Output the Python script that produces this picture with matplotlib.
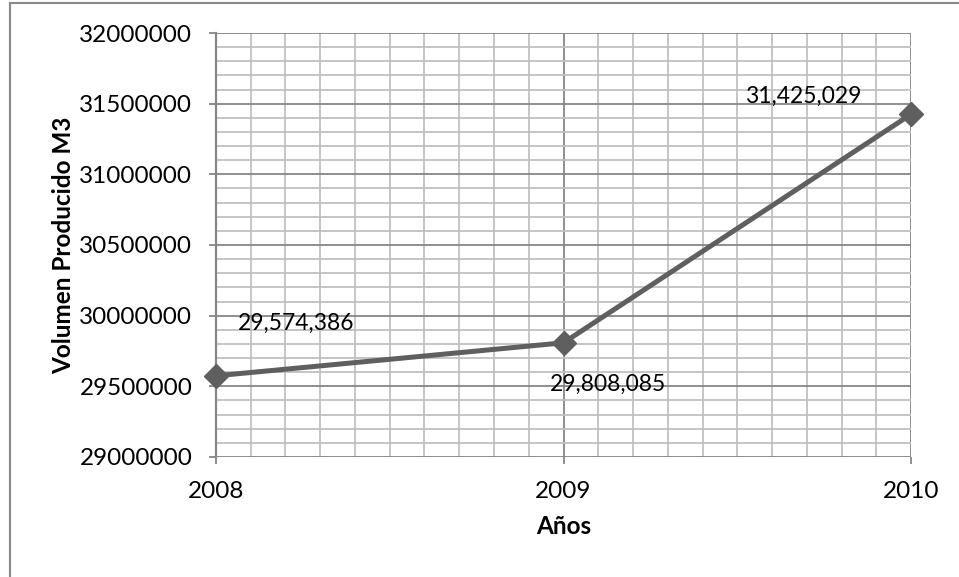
import matplotlib.pyplot as plt
from matplotlib.lines import Line2D
from matplotlib.ticker import MultipleLocator, FuncFormatter

YEARS = [2008, 2009, 2010]
VOLUMES = [29574386, 29808085, 31425029]
LABEL_OFFSETS = [(58, 38), (32, -30), (-77, 13)]

MAJOR_GRID = '#868686'
MINOR_GRID = '#c0c0c0'
LINE_COLOR = '#5f5f5f'

plt.rcParams['font.family'] = ['Lato', 'DejaVu Sans']

fig = plt.figure(figsize=(9.59, 5.77), dpi=100)
ax = fig.add_axes([0.2252, 0.208, 0.7248, 0.7348])

ax.plot(YEARS, VOLUMES, color=LINE_COLOR, linewidth=3.6, marker='D',
        markersize=12, markeredgecolor=LINE_COLOR, zorder=5, clip_on=False)

for year, value, offset in zip(YEARS, VOLUMES, LABEL_OFFSETS):
    ax.annotate(f"{value:,}", (year, value), xytext=offset, textcoords='offset points',
                ha='center', va='center', fontsize=16.4, color='black', zorder=6)

ax.set_xlim(2008, 2010)
ax.set_ylim(29000000, 32000000)
ax.xaxis.set_major_locator(MultipleLocator(1))
ax.xaxis.set_minor_locator(MultipleLocator(0.1))
ax.yaxis.set_major_locator(MultipleLocator(500000))
ax.yaxis.set_minor_locator(MultipleLocator(100000))
ax.yaxis.set_major_formatter(FuncFormatter(lambda v, p: f"{int(round(v))}"))
ax.xaxis.set_major_formatter(FuncFormatter(lambda v, p: f"{int(round(v))}"))

ax.grid(which='minor', color=MINOR_GRID, linewidth=1.3)
ax.grid(which='major', color=MAJOR_GRID, linewidth=1.3)
ax.set_axisbelow(True)

for side in ['top', 'right', 'bottom']:
    ax.spines[side].set_visible(False)
ax.spines['left'].set_color(MAJOR_GRID)
ax.spines['left'].set_linewidth(1.6)

ax.tick_params(axis='y', which='major', length=5, width=1.3, color=MAJOR_GRID,
               labelsize=17.5, pad=12)
ax.tick_params(axis='x', which='major', length=5, width=1.3, color=MAJOR_GRID,
               labelsize=17.5, pad=12)
ax.tick_params(which='minor', length=0)

ax.set_xlabel('Años', fontsize=17.5, fontweight='bold', labelpad=10)
ax.set_ylabel('Volumen Producido M3', fontsize=17.5, fontweight='bold')
ax.yaxis.set_label_coords(-0.203, 0.5)

# frame edges of the chart area
fig.add_artist(Line2D([10 / 959, 1], [1 - 3 / 577, 1 - 3 / 577], color='#8a8a8a', linewidth=1.5))
fig.add_artist(Line2D([10 / 959, 10 / 959], [0, 1 - 3 / 577], color='#8a8a8a', linewidth=1.5))

fig.savefig('out.png', dpi=100, facecolor='white')
